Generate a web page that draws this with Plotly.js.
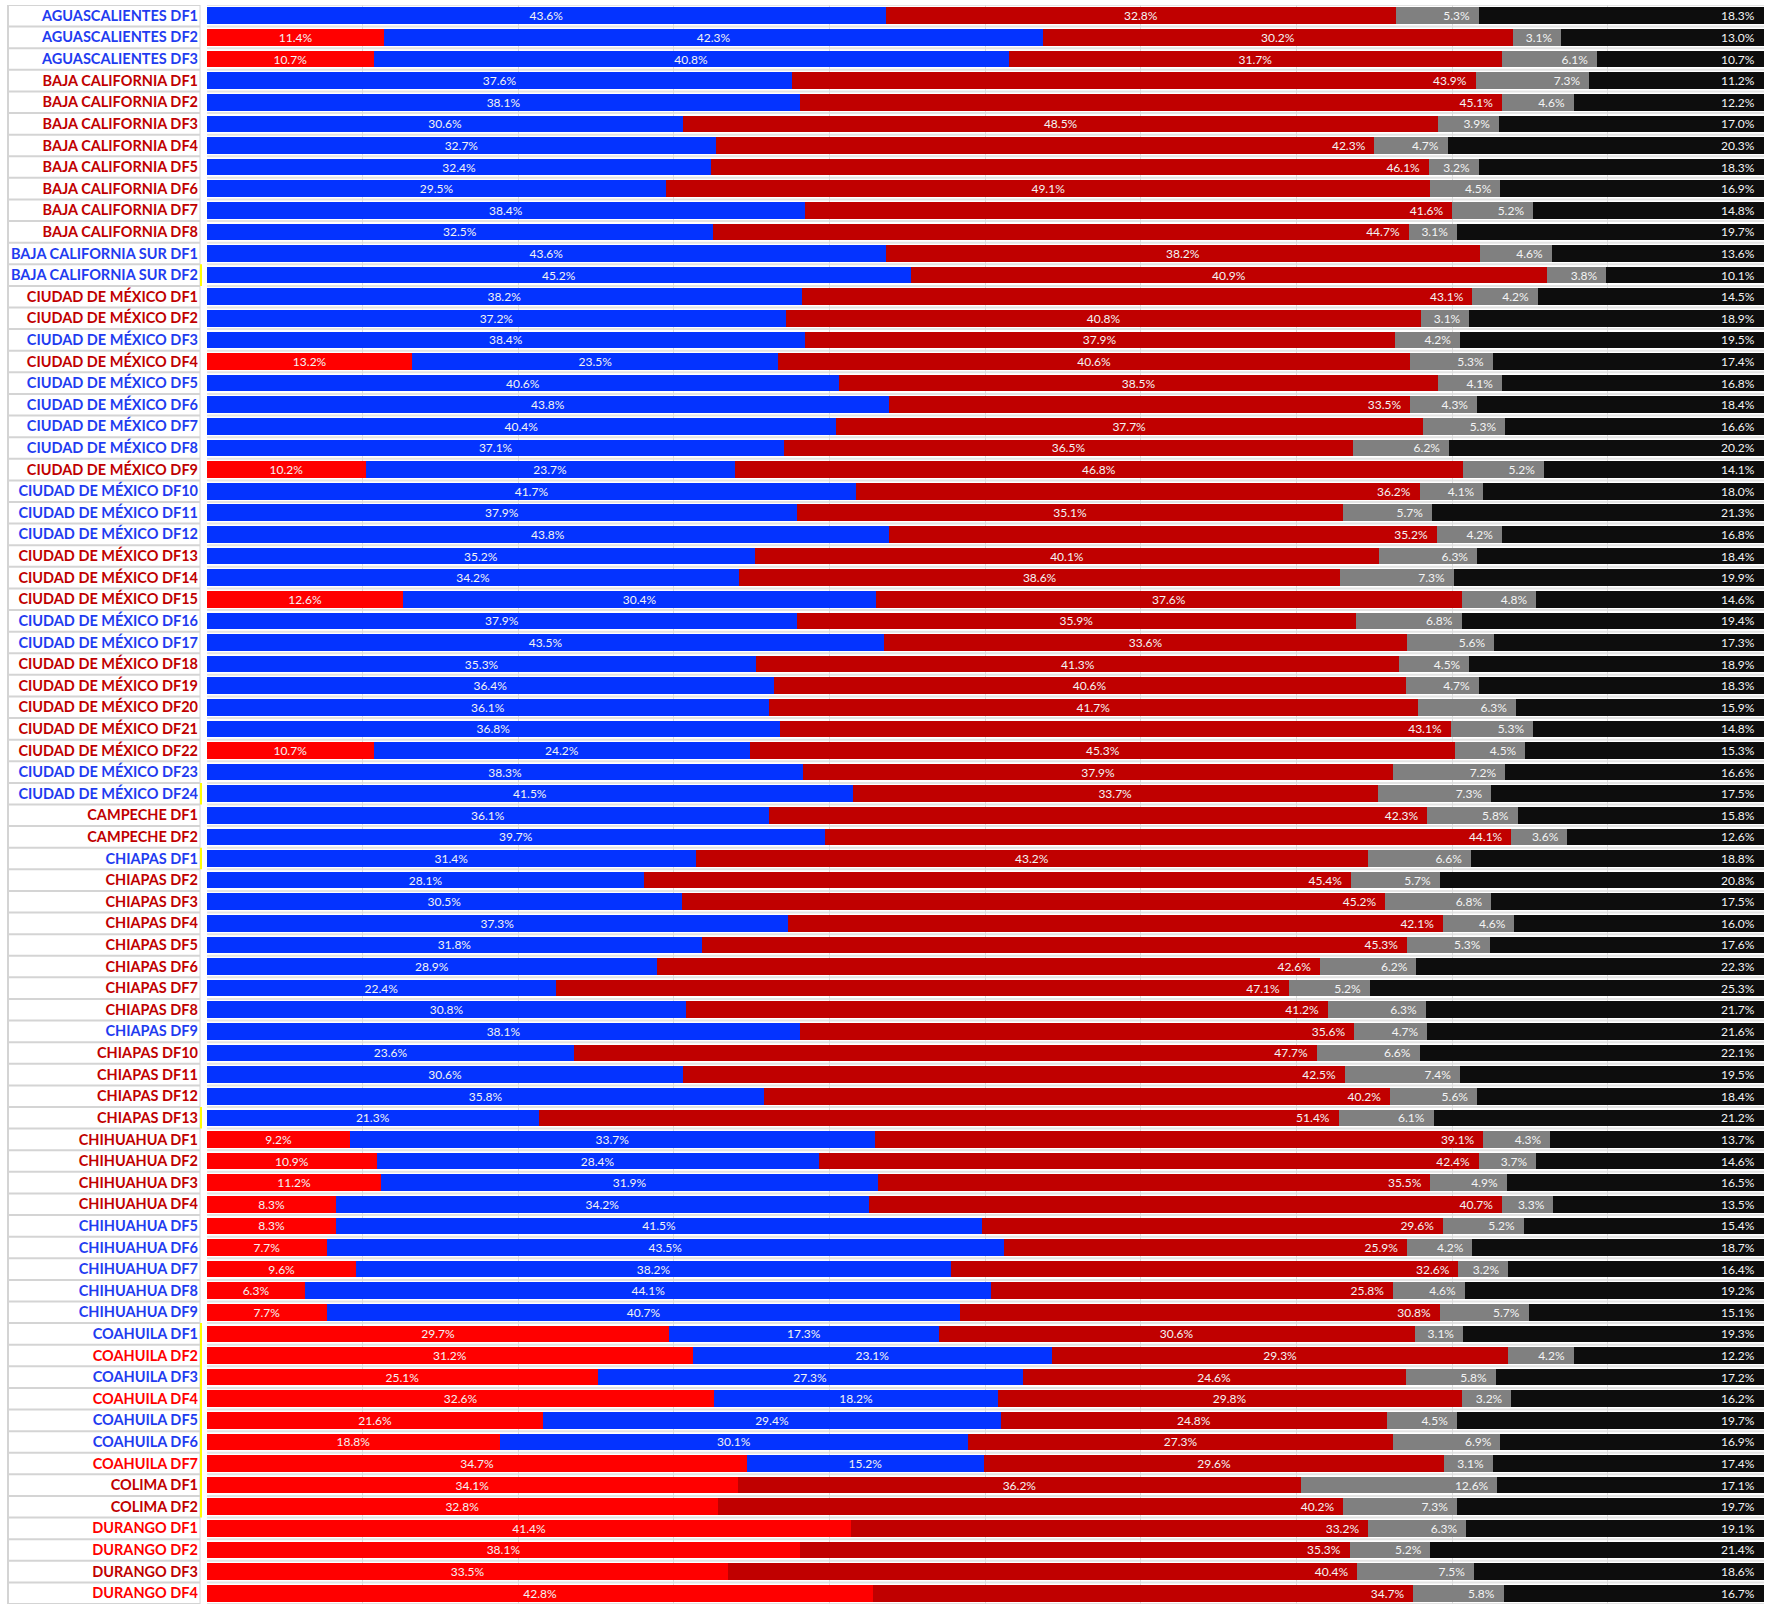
<!DOCTYPE html>
<html>
<head>
<meta charset="utf-8">
<script src="https://cdn.plot.ly/plotly-3.0.1.min.js"></script>
<style>html,body{margin:0;padding:0;background:#fff;}#chart{width:1781px;height:1604px;}</style>
</head>
<body>
<div id="chart"></div>
<script>
const districts = [
"AGUASCALIENTES DF1","AGUASCALIENTES DF2","AGUASCALIENTES DF3",
"BAJA CALIFORNIA DF1","BAJA CALIFORNIA DF2","BAJA CALIFORNIA DF3","BAJA CALIFORNIA DF4","BAJA CALIFORNIA DF5","BAJA CALIFORNIA DF6","BAJA CALIFORNIA DF7","BAJA CALIFORNIA DF8",
"BAJA CALIFORNIA SUR DF1","BAJA CALIFORNIA SUR DF2",
"CIUDAD DE MÉXICO DF1","CIUDAD DE MÉXICO DF2","CIUDAD DE MÉXICO DF3","CIUDAD DE MÉXICO DF4","CIUDAD DE MÉXICO DF5","CIUDAD DE MÉXICO DF6","CIUDAD DE MÉXICO DF7","CIUDAD DE MÉXICO DF8","CIUDAD DE MÉXICO DF9","CIUDAD DE MÉXICO DF10","CIUDAD DE MÉXICO DF11","CIUDAD DE MÉXICO DF12","CIUDAD DE MÉXICO DF13","CIUDAD DE MÉXICO DF14","CIUDAD DE MÉXICO DF15","CIUDAD DE MÉXICO DF16","CIUDAD DE MÉXICO DF17","CIUDAD DE MÉXICO DF18","CIUDAD DE MÉXICO DF19","CIUDAD DE MÉXICO DF20","CIUDAD DE MÉXICO DF21","CIUDAD DE MÉXICO DF22","CIUDAD DE MÉXICO DF23","CIUDAD DE MÉXICO DF24",
"CAMPECHE DF1","CAMPECHE DF2",
"CHIAPAS DF1","CHIAPAS DF2","CHIAPAS DF3","CHIAPAS DF4","CHIAPAS DF5","CHIAPAS DF6","CHIAPAS DF7","CHIAPAS DF8","CHIAPAS DF9","CHIAPAS DF10","CHIAPAS DF11","CHIAPAS DF12","CHIAPAS DF13",
"CHIHUAHUA DF1","CHIHUAHUA DF2","CHIHUAHUA DF3","CHIHUAHUA DF4","CHIHUAHUA DF5","CHIHUAHUA DF6","CHIHUAHUA DF7","CHIHUAHUA DF8","CHIHUAHUA DF9",
"COAHUILA DF1","COAHUILA DF2","COAHUILA DF3","COAHUILA DF4","COAHUILA DF5","COAHUILA DF6","COAHUILA DF7",
"COLIMA DF1","COLIMA DF2",
"DURANGO DF1","DURANGO DF2","DURANGO DF3","DURANGO DF4"
];

// label colour key per district: B = blue, D = dark red, R = bright red
const labelKey = [
"B","B","B",
"D","D","D","D","D","D","D","D",
"B","B",
"D","D","B","D","B","B","B","B","D","B","B","B","D","D","D","B","B","D","D","D","D","D","B","B",
"D","D",
"B","D","D","D","D","D","D","D","B","D","D","D","D",
"D","D","D","D","B","B","B","B","B",
"B","R","B","R","B","B","R",
"D","D",
"R","R","D","R"
];

const redSeries = [
null,11.4,10.7,
null,null,null,null,null,null,null,null,
null,null,
null,null,null,13.2,null,null,null,null,10.2,null,null,null,null,null,12.6,null,null,null,null,null,null,10.7,null,null,
null,null,
null,null,null,null,null,null,null,null,null,null,null,null,null,
9.2,10.9,11.2,8.3,8.3,7.7,9.6,6.3,7.7,
29.7,31.2,25.1,32.6,21.6,18.8,34.7,
34.1,32.8,
41.4,38.1,33.5,42.8
];

const blueSeries = [
43.6,42.3,40.8,
37.6,38.1,30.6,32.7,32.4,29.5,38.4,32.5,
43.6,45.2,
38.2,37.2,38.4,23.5,40.6,43.8,40.4,37.1,23.7,41.7,37.9,43.8,35.2,34.2,30.4,37.9,43.5,35.3,36.4,36.1,36.8,24.2,38.3,41.5,
36.1,39.7,
31.4,28.1,30.5,37.3,31.8,28.9,22.4,30.8,38.1,23.6,30.6,35.8,21.3,
33.7,28.4,31.9,34.2,41.5,43.5,38.2,44.1,40.7,
17.3,23.1,27.3,18.2,29.4,30.1,15.2,
null,null,
null,null,null,null
];

const darkRedSeries = [
32.8,30.2,31.7,
43.9,45.1,48.5,42.3,46.1,49.1,41.6,44.7,
38.2,40.9,
43.1,40.8,37.9,40.6,38.5,33.5,37.7,36.5,46.8,36.2,35.1,35.2,40.1,38.6,37.6,35.9,33.6,41.3,40.6,41.7,43.1,45.3,37.9,33.7,
42.3,44.1,
43.2,45.4,45.2,42.1,45.3,42.6,47.1,41.2,35.6,47.7,42.5,40.2,51.4,
39.1,42.4,35.5,40.7,29.6,25.9,32.6,25.8,30.8,
30.6,29.3,24.6,29.8,24.8,27.3,29.6,
36.2,40.2,
33.2,35.3,40.4,34.7
];

// where the dark red label sits: c = centre, e = end
const darkRedLabelPos = [
"c","c","c",
"e","e","c","e","e","c","e","e",
"c","c",
"e","c","c","c","c","e","c","c","c","e","c","e","c","c","c","c","c","c","c","c","e","c","c","c",
"e","e",
"c","e","e","e","e","e","e","e","e","e","e","e","e",
"e","e","e","e","e","e","e","e","e",
"c","c","c","c","c","c","c",
"c","e",
"e","e","e","e"
];

const graySeries = [
5.3,3.1,6.1,
7.3,4.6,3.9,4.7,3.2,4.5,5.2,3.1,
4.6,3.8,
4.2,3.1,4.2,5.3,4.1,4.3,5.3,6.2,5.2,4.1,5.7,4.2,6.3,7.3,4.8,6.8,5.6,4.5,4.7,6.3,5.3,4.5,7.2,7.3,
5.8,3.6,
6.6,5.7,6.8,4.6,5.3,6.2,5.2,6.3,4.7,6.6,7.4,5.6,6.1,
4.3,3.7,4.9,3.3,5.2,4.2,3.2,4.6,5.7,
3.1,4.2,5.8,3.2,4.5,6.9,3.1,
12.6,7.3,
6.3,5.2,7.5,5.8
];

const blackSeries = [
18.3,13.0,10.7,
11.2,12.2,17.0,20.3,18.3,16.9,14.8,19.7,
13.6,10.1,
14.5,18.9,19.5,17.4,16.8,18.4,16.6,20.2,14.1,18.0,21.3,16.8,18.4,19.9,14.6,19.4,17.3,18.9,18.3,15.9,14.8,15.3,16.6,17.5,
15.8,12.6,
18.8,20.8,17.5,16.0,17.6,22.3,25.3,21.7,21.6,22.1,19.5,18.4,21.2,
13.7,14.6,16.5,13.5,15.4,18.7,16.4,19.2,15.1,
19.3,12.2,17.2,16.2,19.7,16.9,17.4,
17.1,19.7,
19.1,21.4,18.6,16.7
];

// rows marked with a yellow edge on the label cell (start index, end index)
const yellowRuns = [[12,12],[36,36],[39,39],[51,51],[61,69]];

const COLORS = {R:"#ff0000", B:"#0433ff", D:"#c00000", G:"#808080", K:"#0d0d0d"};
const LABEL_COLORS = {R:"#ff0000", B:"#1f3cf0", D:"#c00000"};

const idx = districts.map((_, i) => i);
const ticktext = districts.map((d, i) => `<b><span style="color:${LABEL_COLORS[labelKey[i]]}">${d}</span></b>`);

const textFont = {family: "Lato, 'Open Sans', sans-serif", size: 12, color: "#f4f4f4"};

function barTrace(name, xs, color, anchor) {
  const pad = anchor === "end" ? "\u00a0\u00a0" : "";
  return {
    type: "bar", orientation: "h", name: name,
    y: idx, x: xs,
    marker: {color: color, line: {width: 0}},
    text: xs.map(v => v == null ? "" : v.toFixed(1) + "%" + pad),
    textposition: "inside",
    insidetextanchor: anchor,
    textfont: textFont,
    constraintext: "none",
    hoverinfo: "y+x",
    cliponaxis: false
  };
}

const drCentre = darkRedSeries.map((v, i) => darkRedLabelPos[i] === "c" ? v : null);
const drEnd = darkRedSeries.map((v, i) => darkRedLabelPos[i] === "e" ? v : null);

const data = [
  barTrace("Rojo", redSeries, COLORS.R, "middle"),
  barTrace("Azul", blueSeries, COLORS.B, "middle"),
  barTrace("Guinda", drCentre, COLORS.D, "middle"),
  barTrace("Guinda ", drEnd, COLORS.D, "end"),
  barTrace("Otros", graySeries, COLORS.G, "end"),
  barTrace("Abstención", blackSeries, COLORS.K, "end")
];

const shapes = [];
const n = districts.length;
for (let i = -1; i < n; i++) {
  // plot-area row separators
  shapes.push({type: "line", xref: "paper", yref: "y", x0: 0, x1: 1, y0: i + 0.5, y1: i + 0.5,
    line: {color: "#e3e3e3", width: 2}, layer: "below"});
  // label cell separators
  shapes.push({type: "line", xref: "paper", yref: "y", xsizemode: "pixel", xanchor: 0, x0: -199, x1: -7,
    y0: i + 0.5, y1: i + 0.5, line: {color: "#d4d4d4", width: 2}});
}
// label column borders
shapes.push({type: "line", xref: "paper", yref: "paper", xsizemode: "pixel", xanchor: 0, x0: -199, x1: -199,
  y0: 0, y1: 1, line: {color: "#d4d4d4", width: 2}});
shapes.push({type: "line", xref: "paper", yref: "paper", xsizemode: "pixel", xanchor: 0, x0: -7, x1: -7,
  y0: 0, y1: 1, line: {color: "#d4d4d4", width: 1}});
yellowRuns.forEach(([a, b]) => {
  shapes.push({type: "line", xref: "paper", yref: "y", xsizemode: "pixel", xanchor: 0, x0: -6, x1: -6,
    y0: a - 0.5, y1: b + 0.5, line: {color: "#ffff00", width: 2}});
});

const layout = {
  width: 1781, height: 1604,
  margin: {l: 207, r: 17, t: 5, b: 0, pad: 0},
  paper_bgcolor: "#ffffff", plot_bgcolor: "#ffffff",
  barmode: "stack", bargap: 0.23,
  showlegend: false,
  font: {family: "Lato, 'Open Sans', sans-serif"},
  xaxis: {range: [0, 100.03], dtick: 10, showgrid: true, gridcolor: "#dcdcdc", gridwidth: 1,
    zeroline: false, showticklabels: false, ticks: "", fixedrange: true},
  yaxis: {range: [n - 0.5, -0.5], tickmode: "array", tickvals: idx, ticktext: ticktext,
    showgrid: false, zeroline: false, ticks: "", ticklabelstandoff: 8,
    tickfont: {family: "Lato, 'Open Sans', sans-serif", size: 14.5}, fixedrange: true},
  shapes: shapes
};

Plotly.newPlot("chart", data, layout, {displayModeBar: false, staticPlot: true});
</script>
</body>
</html>
